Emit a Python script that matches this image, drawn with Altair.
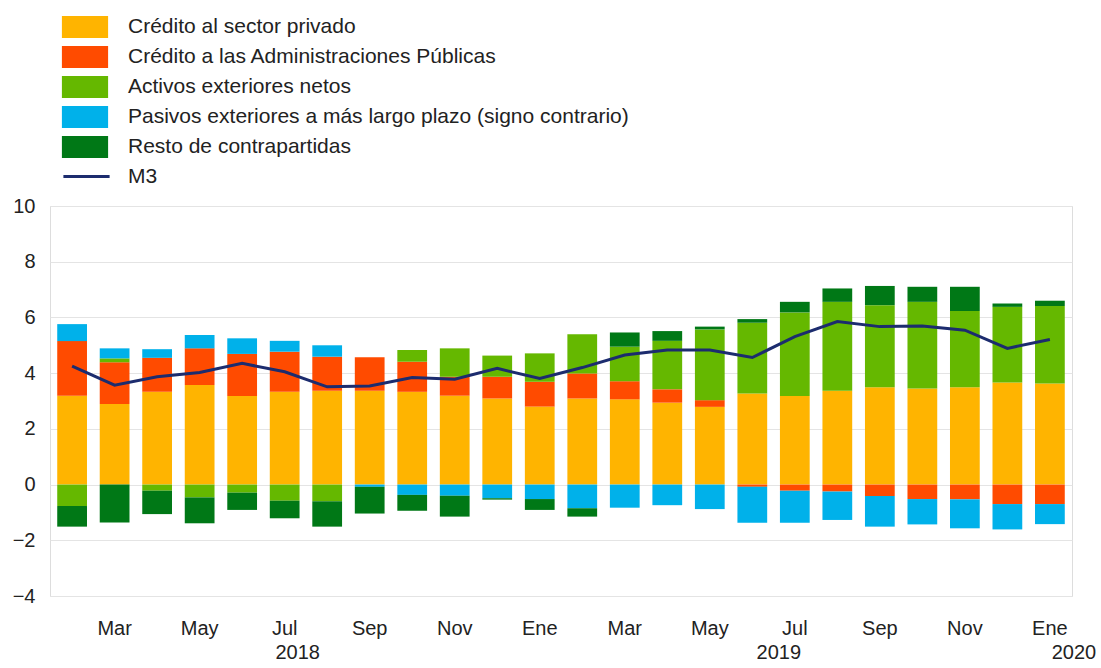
import altair as alt
import pandas as pd

meses = ["Feb 2018", "Mar 2018", "Abr 2018", "May 2018", "Jun 2018", "Jul 2018",
         "Ago 2018", "Sep 2018", "Oct 2018", "Nov 2018", "Dic 2018", "Ene 2019",
         "Feb 2019", "Mar 2019", "Abr 2019", "May 2019", "Jun 2019", "Jul 2019",
         "Ago 2019", "Sep 2019", "Oct 2019", "Nov 2019", "Dic 2019", "Ene 2020"]

etiquetas_mes = ["Mar 2018", "May 2018", "Jul 2018", "Sep 2018", "Nov 2018", "Ene 2019",
                 "Mar 2019", "May 2019", "Jul 2019", "Sep 2019", "Nov 2019", "Ene 2020"]

series = ["Crédito al sector privado",
          "Crédito a las Administraciones Públicas",
          "Activos exteriores netos",
          "Pasivos exteriores a más largo plazo (signo contrario)",
          "Resto de contrapartidas"]
colores = ["#FFB400", "#FF4B00", "#65B800", "#00B1EA", "#007816"]

credito_privado = [3.19, 2.89, 3.33, 3.57, 3.18, 3.33, 3.37, 3.37, 3.33, 3.19, 3.09, 2.80,
                   3.09, 3.06, 2.94, 2.79, 3.27, 3.18, 3.37, 3.49, 3.45, 3.49, 3.66, 3.63]
credito_aapp = [1.96, 1.50, 1.22, 1.32, 1.51, 1.44, 1.22, 1.20, 1.08, 0.68, 0.78, 0.89,
                0.90, 0.65, 0.48, 0.24, -0.08, -0.22, -0.25, -0.41, -0.52, -0.53, -0.70, -0.70]
activos_ext = [-0.77, 0.14, -0.22, -0.46, -0.29, -0.58, -0.60, 0.0, 0.42, 1.02, 0.76, 1.02,
               1.41, 1.24, 1.74, 2.54, 2.54, 3.00, 3.19, 2.95, 3.11, 2.74, 2.72, 2.78]
pasivos_ext = [0.61, 0.36, 0.31, 0.48, 0.56, 0.39, 0.41, -0.08, -0.37, -0.40, -0.49, -0.52,
               -0.85, -0.83, -0.74, -0.88, -1.29, -1.15, -1.02, -1.10, -0.91, -1.04, -0.91, -0.72]
resto = [-0.74, -1.36, -0.84, -0.93, -0.62, -0.63, -0.91, -0.96, -0.57, -0.75, -0.05, -0.39,
         -0.30, 0.51, 0.35, 0.10, 0.13, 0.38, 0.48, 0.69, 0.54, 0.87, 0.12, 0.19]
m3 = [4.25, 3.57, 3.87, 4.02, 4.35, 4.05, 3.51, 3.54, 3.84, 3.78, 4.17, 3.81,
      4.20, 4.65, 4.83, 4.83, 4.56, 5.31, 5.85, 5.67, 5.69, 5.54, 4.89, 5.21]

anios = ["2018", "2019", "2020"]
anio_ancla = ["Jul 2018", "Jul 2019", "Ene 2020"]
anio_dx = [13, -16, 24]

FONT = "Liberation Sans"
TXT = "#222222"

valores = [credito_privado, credito_aapp, activos_ext, pasivos_ext, resto]
rows = []
for k, (nombre, vals) in enumerate(zip(series, valores)):
    for mes, v in zip(meses, vals):
        rows.append({"mes": mes, "serie": nombre, "valor": v, "orden": k})
df = pd.DataFrame(rows)
df_m3 = pd.DataFrame({"mes": meses, "m3": m3, "s": ["M3"] * len(meses)})

x_enc = alt.X("mes:N",
              scale=alt.Scale(domain=meses, paddingInner=0.3, paddingOuter=0.17),
              axis=alt.Axis(values=etiquetas_mes, labelExpr="split(datum.value, ' ')[0]",
                            title=None, labelAngle=0, ticks=False, domain=False, grid=False,
                            labelPadding=22, labelFontSize=20, labelFont=FONT,
                            labelColor=TXT))

y_axis = alt.Axis(values=[-4, -2, 0, 2, 4, 6, 8, 10], title=None, ticks=False,
                  domain=False, gridColor="#e4e4e4", gridWidth=1.2, labelPadding=15,
                  labelFontSize=20, labelFont=FONT, labelColor=TXT)
y_scale = alt.Scale(domain=[-4, 10], nice=False)

bars = alt.Chart(df).mark_bar().encode(
    x=x_enc,
    y=alt.Y("valor:Q", scale=y_scale, axis=y_axis, stack="zero"),
    fill=alt.Fill("serie:N", scale=alt.Scale(domain=series, range=colores),
                  legend=alt.Legend(title=None, orient="none", legendX=24, legendY=-190,
                                    direction="vertical",
                                    symbolType="M-2.1,-1H2.1V1H-2.1Z", symbolSize=484,
                                    symbolStrokeWidth=0, symbolOpacity=1,
                                    labelOffset=32, rowPadding=8, labelFontSize=21,
                                    labelFont=FONT, labelColor=TXT, labelLimit=800)),
    order=alt.Order("orden:Q", sort="ascending"),
)

line = alt.Chart(df_m3).mark_line(strokeWidth=3).encode(
    x=x_enc,
    y=alt.Y("m3:Q", scale=y_scale, axis=y_axis),
    stroke=alt.Stroke("s:N", scale=alt.Scale(domain=["M3"], range=["#1c2c6e"]),
                      legend=alt.Legend(title=None, orient="none", legendX=24, legendY=-42,
                                        symbolType="M-2.1,0H2.1", symbolSize=484,
                                        symbolStrokeWidth=3, labelOffset=29,
                                        labelFontSize=21, labelFont=FONT, labelColor=TXT)),
)

layers = [bars, line]
for anio, ancla, dx in zip(anios, anio_ancla, anio_dx):
    dfy = pd.DataFrame({"mes": [ancla], "anio": [anio]})
    layers.append(
        alt.Chart(dfy).mark_text(fontSize=20, font=FONT, color=TXT, dx=dx,
                                 baseline="middle", align="center").encode(
            x=x_enc,
            y=alt.value(447),
            text="anio:N",
        )
    )

chart = alt.layer(*layers).properties(
    width=1022, height=390,
    autosize=alt.AutoSizeParams(type="none"),
    padding={"left": 50, "top": 206, "right": 29, "bottom": 72},
).configure_view(stroke="#dcdcdc", strokeWidth=1.2).configure(background="white")

chart.save("out.html", embed_options={"renderer": "svg", "actions": False})
